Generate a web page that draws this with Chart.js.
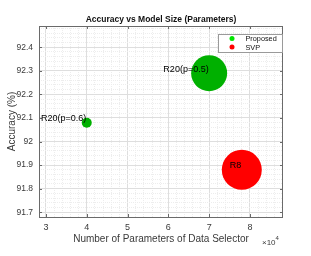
<!DOCTYPE html>
<html>
<head>
<meta charset="utf-8">
<script src="https://cdn.jsdelivr.net/npm/chart.js@4.4.1/dist/chart.umd.min.js"></script>
<style>
  html, body { margin: 0; padding: 0; background: #fff; }
  #wrap { width: 311px; height: 256px; }
</style>
</head>
<body>
<div id="wrap"><canvas id="chart" width="311" height="256"></canvas></div>
<script>
// Data
const proposedParams = [40000, 70000];
const proposedAcc = [92.08, 92.29];
const proposedSize = [5, 18];
const proposedNames = ['R20(p=0.6)', 'R20(p=0.5)'];

const svpParams = [78000];
const svpAcc = [91.88];
const svpSize = [20];
const svpNames = ['R8'];

const xLimits = [28300, 88100];
const yLimits = [91.68, 92.49];
const xMinorStep = 2000;   // major every 10000
const yMinorStep = 0.02;   // major every 0.1

const FONT = '"Liberation Sans", Arial, Helvetica, sans-serif';
const AXIS_COLOR = '#6a6a6a';
const TEXT_COLOR = '#3a3a3a';

function minorValues(lo, hi, step) {
    const out = [];
    const start = Math.ceil(lo / step - 1e-9);
    for (let i = start; i * step <= hi + 1e-9; i++) {
        out.push(Math.round(i * step * 1000) / 1000);
    }
    return out;
}

function isMajorX(v) { return Math.abs(v / 10000 - Math.round(v / 10000)) < 1e-6; }
function isMajorY(v) { return Math.abs(v * 10 - Math.round(v * 10)) < 1e-4; }

// Fixed plot box to match the reference
function fitY(scale) { scale.width = 39; }
function fitX(scale) { scale.height = 39; }

// Text, box, inner ticks, bubble labels and legend
const decorPlugin = {
    id: 'decor',
    afterDatasetsDraw(chart) {
        const ctx = chart.ctx;
        const area = chart.chartArea;
        const xs = chart.scales.x;
        const ys = chart.scales.y;

        ctx.save();
        // box
        ctx.strokeStyle = AXIS_COLOR;
        ctx.lineWidth = 1;
        ctx.strokeRect(Math.round(area.left) + 0.5, Math.round(area.top) + 0.5,
            Math.round(area.right - area.left) - 1, Math.round(area.bottom - area.top));

        // inward major ticks on all four sides
        ctx.beginPath();
        xs.ticks.filter(t => isMajorX(t.value)).forEach(t => {
            const px = Math.round(xs.getPixelForValue(t.value)) + 0.5;
            ctx.moveTo(px, area.bottom); ctx.lineTo(px, area.bottom - 3);
            ctx.moveTo(px, area.top); ctx.lineTo(px, area.top + 3);
        });
        ys.ticks.filter(t => isMajorY(t.value)).forEach(t => {
            const py = Math.round(ys.getPixelForValue(t.value)) + 0.5;
            ctx.moveTo(area.left, py); ctx.lineTo(area.left + 3, py);
            ctx.moveTo(area.right, py); ctx.lineTo(area.right - 3, py);
        });
        ctx.stroke();

        // bubble labels
        ctx.fillStyle = '#000';
        ctx.font = '9px ' + FONT;
        ctx.textAlign = 'right';
        ctx.textBaseline = 'alphabetic';
        [[0, proposedNames], [1, svpNames]].forEach(([idx, names]) => {
            chart.getDatasetMeta(idx).data.forEach((el, i) => {
                ctx.fillText(names[i], el.x - 0.5, el.y - 1.5);
            });
        });

        // legend
        const lx = 218, ly = 34, lw = 64, lh = 18;
        ctx.fillStyle = '#fff';
        ctx.fillRect(lx, ly, lw, lh);
        ctx.strokeStyle = '#9a9a9a';
        ctx.strokeRect(lx + 0.5, ly + 0.5, lw, lh);
        const items = [['Proposed', '#00e600', 38.5], ['SVP', '#ff0000', 47]];
        ctx.font = '7.3px ' + FONT;
        ctx.textAlign = 'left';
        ctx.textBaseline = 'middle';
        items.forEach(([name, color, yy]) => {
            ctx.fillStyle = color;
            ctx.beginPath();
            ctx.arc(232, yy, 2.5, 0, Math.PI * 2);
            ctx.fill();
            ctx.fillStyle = '#111';
            ctx.fillText(name, 245.5, yy + 0.5);
        });
        ctx.restore();
    },
    afterDraw(chart) {
        const ctx = chart.ctx;
        const area = chart.chartArea;
        const cx = (area.left + area.right) / 2;
        ctx.save();
        ctx.fillStyle = '#111';
        ctx.textAlign = 'center';
        ctx.textBaseline = 'middle';
        ctx.font = 'bold 8.5px ' + FONT;
        ctx.fillText('Accuracy vs Model Size (Parameters)', cx, 20);

        ctx.fillStyle = TEXT_COLOR;
        ctx.font = '10px ' + FONT;
        ctx.fillText('Number of Parameters of Data Selector', cx, 239.5);

        ctx.save();
        ctx.translate(12, (area.top + area.bottom) / 2);
        ctx.rotate(-Math.PI / 2);
        ctx.fillText('Accuracy (%)', 0, 0);
        ctx.restore();

        ctx.textAlign = 'left';
        ctx.font = '8px ' + FONT;
        ctx.fillText('\u00d710', 262, 242.5);
        ctx.font = '6px ' + FONT;
        ctx.fillText('4', 275.5, 238.5);
        ctx.restore();
    }
};

new Chart(document.getElementById('chart'), {
    type: 'bubble',
    data: {
        datasets: [
            {
                label: 'Proposed',
                data: proposedParams.map((x, i) => ({ x: x, y: proposedAcc[i], r: proposedSize[i] })),
                backgroundColor: '#00b000',
                borderWidth: 0
            },
            {
                label: 'SVP',
                data: svpParams.map((x, i) => ({ x: x, y: svpAcc[i], r: svpSize[i] })),
                backgroundColor: '#ff0000',
                borderWidth: 0
            },
            {
                // centre markers
                type: 'scatter',
                label: 'centres',
                data: proposedParams.concat(svpParams).map((x, i) => ({
                    x: x, y: proposedAcc.concat(svpAcc)[i]
                })),
                pointRadius: 1,
                pointStyle: 'rect',
                backgroundColor: '#000',
                borderWidth: 0
            }
        ]
    },
    options: {
        responsive: false,
        animation: false,
        events: [],
        clip: false,
        layout: { padding: { left: 0, right: 28, top: 26, bottom: 0 } },
        plugins: {
            legend: { display: false },
            title: { display: false },
            tooltip: { enabled: false }
        },
        scales: {
            x: {
                type: 'linear',
                min: xLimits[0],
                max: xLimits[1],
                afterFit: fitX,
                afterBuildTicks: (scale) => {
                    scale.ticks = minorValues(xLimits[0], xLimits[1], xMinorStep).map(v => ({ value: v }));
                },
                ticks: {
                    autoSkip: false,
                    maxRotation: 0,
                    padding: 5,
                    color: TEXT_COLOR,
                    font: { family: FONT, size: 9 },
                    callback: (v) => isMajorX(v) ? String(Math.round(v / 10000)) : ''
                },
                grid: {
                    drawTicks: false,
                    color: (c) => isMajorX(c.tick.value) ? '#dedede' : '#ededed'
                },
                border: {
                    display: false,
                    dash: (c) => (c.tick && isMajorX(c.tick.value)) ? [] : [1, 1]
                }
            },
            y: {
                type: 'linear',
                min: yLimits[0],
                max: yLimits[1],
                afterFit: fitY,
                afterBuildTicks: (scale) => {
                    scale.ticks = minorValues(yLimits[0], yLimits[1], yMinorStep).map(v => ({ value: v }));
                },
                ticks: {
                    autoSkip: false,
                    padding: 6,
                    color: TEXT_COLOR,
                    font: { family: FONT, size: 8.5 },
                    callback: (v) => isMajorY(v) ? String(parseFloat(v.toFixed(1))) : ''
                },
                grid: {
                    drawTicks: false,
                    color: (c) => isMajorY(c.tick.value) ? '#dedede' : '#ededed'
                },
                border: {
                    display: false,
                    dash: (c) => (c.tick && isMajorY(c.tick.value)) ? [] : [1, 1]
                }
            }
        }
    },
    plugins: [decorPlugin]
});
</script>
</body>
</html>
